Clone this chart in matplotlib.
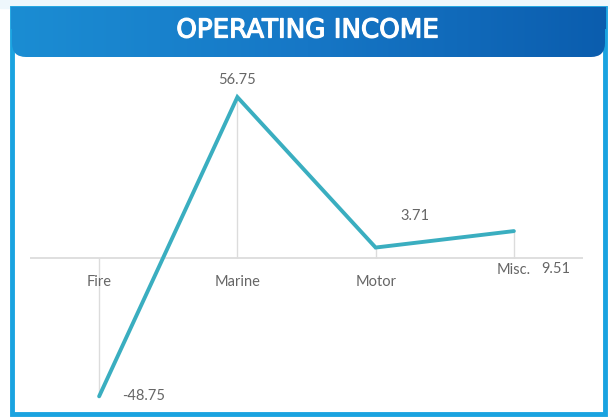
import numpy as np
import matplotlib.pyplot as plt
import matplotlib.patheffects as pe
from matplotlib.patches import Rectangle, FancyBboxPatch
from matplotlib.colors import LinearSegmentedColormap

# operating income by class of business
categories = ['Fire', 'Marine', 'Motor', 'Misc.']
income = [-48.75, 56.75, 3.71, 9.51]
value_labels = ['-48.75', '56.75', '3.71', '9.51']

# where each value label sits relative to its point (offset points)
label_offsets = [(32, 0), (0, 12), (28, 23), (30, -27)]
tick_offsets = [-17, -17, -17, -8.5]

line_color = '#3aaec0'
text_color = '#666666'
grid_color = '#dcdcdc'
frame_blue = '#1aa3e0'

fig = plt.figure(figsize=(6.1, 4.2), dpi=100)

# background layer in pixel coordinates for the frame and banner
bg = fig.add_axes([0, 0, 1, 1])
bg.axis('off')

bg.add_patch(Rectangle((0, 0), 610, 8, color='#eef7fc', zorder=0))
bg.add_patch(Rectangle((12, 8), 593, 406, facecolor='white',
                       edgecolor=frame_blue, linewidth=3.5, zorder=1))

# banner with rounded lower corners and a left-to-right gradient
banner = FancyBboxPatch((25, 8), 567, 36, boxstyle='round,pad=13,rounding_size=14',
                        facecolor='none', edgecolor='none', zorder=2)
bg.add_patch(banner)
top = Rectangle((11, 7), 595, 22, facecolor='none', edgecolor='none', zorder=2)
bg.add_patch(top)
grad = np.linspace(0, 1, 256).reshape(1, -1)
cmap = LinearSegmentedColormap.from_list('banner', ['#1b8dd3', '#1677c6', '#0b5dae'])
for clip in (banner, top):
    im = bg.imshow(grad, cmap=cmap, extent=(11, 606, 57, 7), aspect='auto', zorder=3)
    im.set_clip_path(clip)
bg.set_xlim(0, 610)
bg.set_ylim(420, 0)

title = bg.text(308, 30.5, 'OPERATING INCOME', color='white', fontsize=18.8,
                ha='center', va='center', family='DejaVu Sans', zorder=4)
title.set_path_effects([pe.withStroke(linewidth=0.9, foreground='white')])

# chart
ax = fig.add_axes([30 / 610, 15 / 420, 553 / 610, 335 / 420])
ax.set_facecolor('none')
x = np.arange(len(categories))
ax.set_xlim(-0.5, len(categories) - 0.5)
ax.set_ylim(-51.8, 66.3)
ax.axis('off')

ax.axhline(0, color=grid_color, linewidth=1.3, zorder=1)
ax.vlines(x, 0, income, color=grid_color, linewidth=1, zorder=1)
ax.plot(x, income, color=line_color, linewidth=2.8, solid_capstyle='round',
        solid_joinstyle='miter', zorder=3)

for xi, name, dy in zip(x, categories, tick_offsets):
    ax.annotate(name, (xi, 0), xytext=(0, dy), textcoords='offset points',
                ha='center', va='center', fontsize=10.5, color=text_color,
                family='Lato')

for xi, val, lab, off in zip(x, income, value_labels, label_offsets):
    ax.annotate(lab, (xi, val), xytext=off, textcoords='offset points',
                ha='center', va='center', fontsize=10.5, color=text_color,
                family='Lato')

fig.savefig('out.png', dpi=100)
